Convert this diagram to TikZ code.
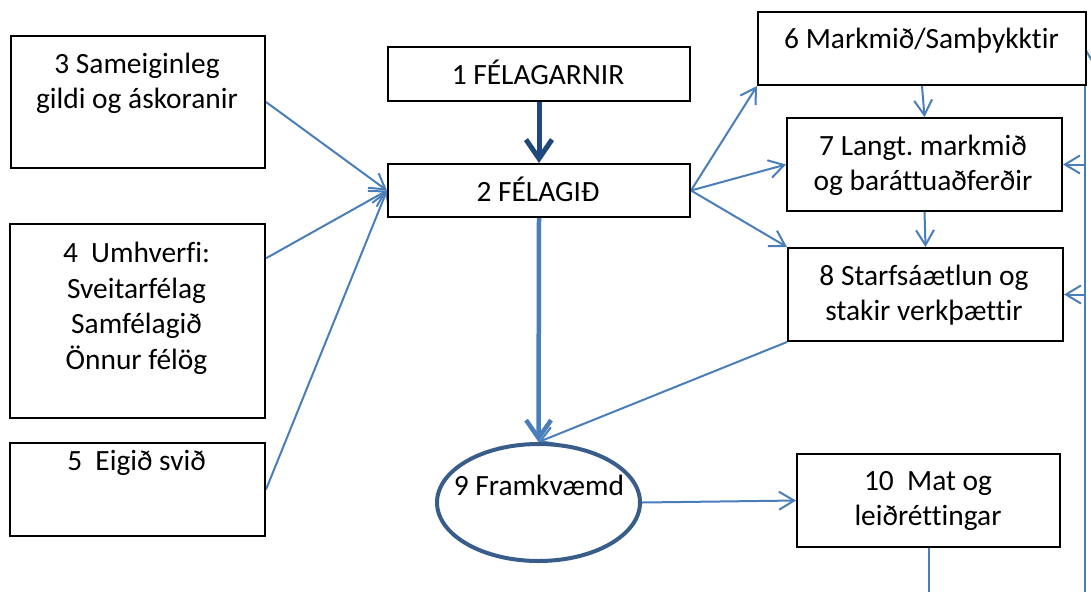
\documentclass[tikz,border=0pt]{standalone}
\usepackage{fontspec}
\setmainfont{Carlito}[Ligatures=NoCommon]
\usetikzlibrary{arrows.meta,shapes.geometric,calc}
\definecolor{conn}{RGB}{74,126,187}
\definecolor{darkconn}{RGB}{31,73,125}
\definecolor{ellcol}{RGB}{56,93,138}
\pgfdeclarelayer{bg}
\pgfsetlayers{bg,main}
\frenchspacing
\tikzset{
  box/.style={draw=black, line width=2pt, fill=white, rectangle, anchor=north west, inner sep=0pt},
  txt/.style={font=\fontsize{29.4}{35.5}\selectfont, align=center, inner sep=0pt, anchor=north},
  conn/.style={draw=conn, line width=2pt, -{Straight Barb[length=15pt,width=18pt,line width=2pt]}},
  plainconn/.style={draw=conn, line width=2pt},
  thickdark/.style={draw=darkconn, line width=5pt, -{Straight Barb[length=19pt,width=26pt,line width=5pt]}},
  thickblue/.style={draw=conn, line width=4.5pt, -{Straight Barb[length=18pt,width=25pt,line width=4.5pt]}},
}
\begin{document}
\begin{tikzpicture}[x=1pt,y=-1pt]
\useasboundingbox (0,0) rectangle (1091,592);
% boxes
\node[box, minimum width=302pt, minimum height=54pt] (b1) at (387,46) {};
\node[box, minimum width=302pt, minimum height=53pt] (b2) at (387,163) {};
\node[box, minimum width=254pt, minimum height=132pt] (b3) at (10,35) {};
\node[box, minimum width=255pt, minimum height=194pt] (b4) at (9,223) {};
\node[box, minimum width=255pt, minimum height=93pt] (b5) at (9,442) {};
\node[box, minimum width=328pt, minimum height=73pt] (b6) at (757,11) {};
\node[box, minimum width=275pt, minimum height=93pt] (b7) at (786,117) {};
\node[box, minimum width=275pt, minimum height=93pt] (b8) at (787,247) {};
\node[box, minimum width=263pt, minimum height=93pt] (b10) at (796,453) {};
\node[ellipse, draw=ellcol, line width=4pt, fill=white, minimum width=203pt, minimum height=117pt, inner sep=0pt] (e9) at (538.5,502.5) {};
% texts
\node[txt] (t1) at (538,59.15) {\strut 1 FÉLAGARNIR};
\node[txt] (t2) at (538,176.15) {\strut 2 FÉLAGIÐ};
\node[txt] (t3) at (137,48.15) {\strut 3 Sameiginleg\\gildi og áskoranir};
\node[txt] (t4) at (136.5,237.85) {\strut 4\ \ Umhverfi:\\Sveitarfélag\\Samfélagið\\Önnur félög};
\node[txt] (t5) at (136.5,445.15) {\strut 5\ \ Eigið svið};
\node[txt] (t6) at (921.5,23.15) {\strut 6 Markmið/Samþykktir};
\node[txt] (t7) at (923,130.15) {\strut 7 Langt. markmið\\og baráttuaðferðir};
\node[txt] (t8) at (924,260.15) {\strut 8 Starfsáætlun og\\stakir verkþættir};
\node[txt] (t9) at (539,470.15) {\strut 9 Framkvæmd};
\node[txt] (t10) at (928,465.15) {\strut 10\ \ Mat og\\leiðréttingar};
% free ends
\coordinate (b4out) at ($(b4.north east)!0.18!(b4.south east)$);
\coordinate (bot10) at (b10.south |- 0,592);
\coordinate (rbot) at (1085,592);
\coordinate (rtop) at (1085,47);
\coordinate (r7) at (rbot |- b7.east);
\coordinate (r8) at (rbot |- b8.east);
\begin{pgfonlayer}{bg}
\draw[thickdark] (b1.south) -- (b2.north);
\draw[thickblue] (b2.south) -- (e9.north);
\draw[conn] (b3.east) -- (b2.west);
\draw[conn] (b4out) -- (b2.west);
\draw[conn] (b5.east) -- (b2.west);
\draw[conn] (b2.east) -- (b6.south west);
\draw[conn] (b2.east) -- (b7.west);
\draw[conn] (b2.east) -- (b8.north west);
\draw[conn] (b6.south) -- (b7.north);
\draw[conn] (b7.south) -- (b8.north);
\draw[conn] (b8.south west) -- (e9.north);
\draw[conn] (e9.east) -- (b10.west);
\draw[plainconn] (b10.south) -- (bot10);
\draw[conn] (rbot) -- (rtop);
\draw[conn] (r7) -- (b7.east);
\draw[conn] (r8) -- (b8.east);
\end{pgfonlayer}
\end{tikzpicture}
\end{document}
